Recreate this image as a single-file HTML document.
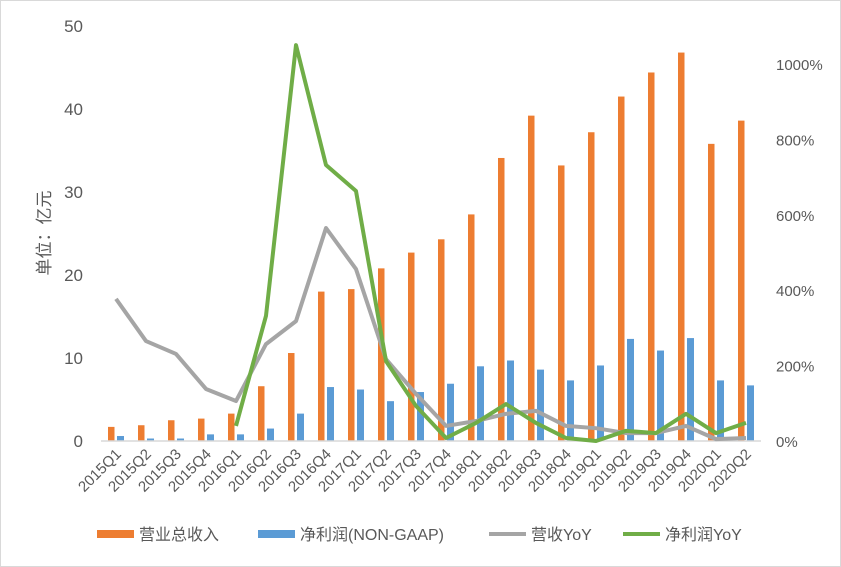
<!DOCTYPE html>
<html><head><meta charset="utf-8"><style>
body{margin:0;background:#fff}
svg{display:block;font-family:"Liberation Sans","Noto Sans CJK SC",sans-serif}
</style></head><body>
<svg id="c" width="841" height="567">
<rect x="0.5" y="0.5" width="840" height="566" fill="#fff" stroke="#d9d9d9"/>
<g id="g"></g>
</svg>
<script>
const categories=["2015Q1","2015Q2","2015Q3","2015Q4","2016Q1","2016Q2","2016Q3","2016Q4","2017Q1","2017Q2","2017Q3","2017Q4","2018Q1","2018Q2","2018Q3","2018Q4","2019Q1","2019Q2","2019Q3","2019Q4","2020Q1","2020Q2"];
const revenue=[1.7,1.9,2.5,2.7,3.3,6.6,10.6,18,18.3,20.8,22.7,24.3,27.3,34.1,39.2,33.2,37.2,41.5,44.4,46.8,35.8,38.6];
const netProfit=[0.6,0.3,0.3,0.8,0.8,1.5,3.3,6.5,6.2,4.8,5.9,6.9,9,9.7,8.6,7.3,9.1,12.3,10.9,12.4,7.3,6.7];
const revYoY=[377,265,231,138,106,257,318,565,456,217,125,40,53,72,80,40,34,21,21,40,5,8];
const profitYoY=[null,null,null,null,40,332,1050,732,663,212,93,8,48,98,48,8,0,27,21,72,21,48];
const leftTicks=[0,10,20,30,40,50];
const rightTicks=[0,200,400,600,800,1000];
const NS="http://www.w3.org/2000/svg";
const g=document.getElementById('g');
const X0=101,BW=30,Y0=441,YT=26;
const yL=v=>Y0-v/50*(Y0-YT);
const yR=v=>Y0-v/200*75.4;
const xc=i=>X0+BW*i+BW/2;
function mk(t,a,p){const e=document.createElementNS(NS,t);for(const k in a)e.setAttribute(k,a[k]);(p||g).appendChild(e);return e;}
leftTicks.forEach(v=>{const e=mk('text',{x:83,y:yL(v)+6,'text-anchor':'end','font-size':17,fill:'#595959'});e.textContent=v;

});
rightTicks.forEach(v=>{const e=mk('text',{x:776,y:yR(v)+6,'font-size':15,fill:'#595959'});e.textContent=v+'%';

});
const yt=mk('text',{x:0,y:0,transform:'translate(50,233) rotate(-90)','text-anchor':'middle','font-size':17,fill:'#595959'});yt.textContent='单位：亿元';


categories.forEach((c,i)=>{
 let b=mk('rect',{x:xc(i)-8,y:yL(revenue[i]),width:6.5,height:Y0-yL(revenue[i]),fill:'#ed7d31'});
 
 
 b=mk('rect',{x:xc(i)+1,y:yL(netProfit[i]),width:7,height:Y0-yL(netProfit[i]),fill:'#5b9bd5'});
 
 
 const t=mk('text',{x:0,y:0,transform:`translate(${xc(i)+6},${455}) rotate(-45)`,'text-anchor':'end','font-size':15,fill:'#595959'});t.textContent=c;
 
 
});
const ax=mk('line',{x1:X0,x2:X0+BW*22,y1:Y0,y2:Y0,stroke:'#d9d9d9','stroke-width':1.5});


function line(arr,col,name){let d='';arr.forEach((v,i)=>{if(v==null)return;d+=(d?'L':'M')+xc(i)+','+yR(v);});
 const p=mk('path',{d:d,fill:'none',stroke:col,'stroke-width':4,'stroke-linejoin':'round'});
 
 }
line(revYoY,'#a5a5a5','revenue-yoy-line');
line(profitYoY,'#70ad47','net-profit-yoy-line');
const leg=[['营业总收入','#ed7d31',97,'rect'],['净利润(NON-GAAP)','#5b9bd5',258,'rect'],['营收YoY','#a5a5a5',489,'line'],['净利润YoY','#70ad47',623,'line']];
leg.forEach(l=>{
 const grp=mk('g',{});
 
 
 if(l[3]=='rect')mk('rect',{x:l[2],y:530,width:37,height:8,fill:l[1]},grp);
 else mk('line',{x1:l[2],x2:l[2]+37,y1:534,y2:534,stroke:l[1],'stroke-width':4},grp);
 const t=mk('text',{x:l[2]+42,y:540,'font-size':16,fill:'#595959'},grp);t.textContent=l[0];
});
</script>
</body></html>
